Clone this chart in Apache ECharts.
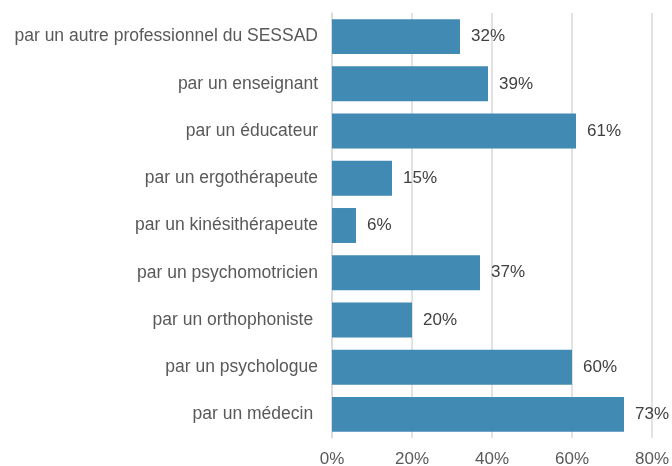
<!DOCTYPE html>
<html>
<head>
<meta charset="utf-8">
<script src="https://cdn.jsdelivr.net/npm/echarts@6/dist/echarts.min.js"></script>
<style>
  html, body { margin: 0; padding: 0; background: #fff; }
  #chart { width: 672px; height: 466px; }
</style>
</head>
<body>
<div id="chart"></div>
<script>
// catégories du bas vers le haut (ordre de l'axe)
const categories = [
  'par un médecin ',
  'par un psychologue',
  'par un orthophoniste ',
  'par un psychomotricien',
  'par un kinésithérapeute',
  'par un ergothérapeute',
  'par un éducateur',
  'par un enseignant',
  'par un autre professionnel du SESSAD'
];
const values = [73, 60, 20, 37, 6, 15, 61, 39, 32];
const xTicks = [0, 20, 40, 60, 80];

const font = '"Liberation Sans", Arial, sans-serif';

const chart = echarts.init(document.getElementById('chart'));
chart.setOption({
  animation: false,
  textStyle: { fontFamily: font },
  grid: { left: 332, right: 20, top: 13, bottom: 28, containLabel: false, outerBoundsMode: 'none' },
  xAxis: {
    type: 'value',
    min: xTicks[0],
    max: xTicks[xTicks.length - 1],
    interval: 20,
    axisLine: { show: false },
    axisTick: { show: false },
    splitLine: { lineStyle: { color: '#d9d9d9', width: 1.5 } },
    axisLabel: { color: '#595959', fontSize: 17, margin: 13, formatter: '{value}%', fontFamily: font }
  },
  yAxis: {
    type: 'category',
    data: categories,
    axisLine: { lineStyle: { color: '#d9d9d9', width: 1.5 } },
    axisTick: { show: false },
    axisLabel: { color: '#595959', fontSize: 17.5, margin: 14, fontFamily: font }
  },
  series: [{
    type: 'bar',
    data: values,
    barCategoryGap: '26%',
    itemStyle: { color: '#418AB3' },
    label: {
      show: true,
      position: 'right',
      distance: 11,
      color: '#404040',
      fontSize: 17,
      fontFamily: font,
      formatter: '{c}%'
    }
  }]
});
</script>
</body>
</html>
